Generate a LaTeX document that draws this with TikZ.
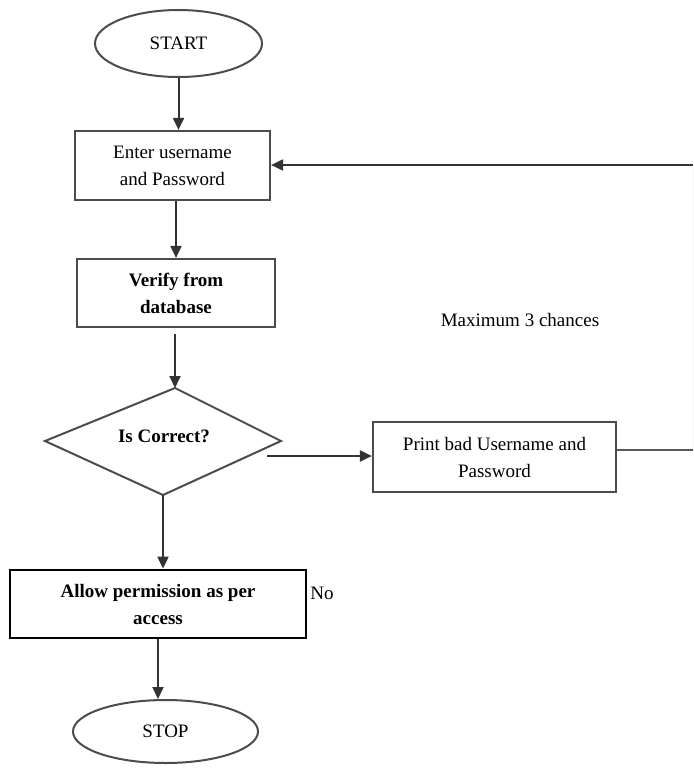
\documentclass[tikz,border=0pt]{standalone}
\usepackage{fontspec}
\setmainfont{Liberation Serif}
\usetikzlibrary{shapes.geometric,arrows.meta}
\begin{document}
\begin{tikzpicture}[x=1pt,y=-1pt,
  every node/.style={font=\fontsize{19}{27}\selectfont, align=center, inner sep=0pt},
  box/.style={draw=black!70, line width=2.2pt, rectangle},
  oval/.style={draw=black!70, line width=2pt, ellipse},
  conn/.style={draw=black!80, line width=2pt},
  arr/.style={conn, -{Triangle[length=12pt,width=11pt]}}]
\useasboundingbox (0,0) rectangle (694,772);
\node[oval, minimum width=167pt, minimum height=67pt] (start) at (178.5,43.5) {START};
\node[box, minimum width=195pt, minimum height=69pt] (enter) at (172.5,165.5) {Enter username\\and Password};
\node[box, minimum width=198pt, minimum height=68pt, font=\fontsize{19}{27}\selectfont\bfseries] (verify) at (176,293) {Verify from\\database};
\coordinate (dtop) at (175,388);
\coordinate (dright) at (281,441);
\coordinate (dbot) at (163,495);
\coordinate (dleft) at (45,441);
\draw[conn, draw=black!70, line join=miter] (dtop) -- (dright) -- (dbot) -- (dleft) -- cycle;
\node[font=\fontsize{19}{27}\selectfont\bfseries] (iscorrect) at (164,436) {Is Correct?};
\node[box, minimum width=243pt, minimum height=70pt] (print) at (494.5,457) {Print bad Username and\\Password};
\node[draw=black, line width=2.8pt, rectangle, minimum width=296pt, minimum height=68pt, font=\fontsize{19}{27}\selectfont\bfseries] (allow) at (158,604) {Allow permission as per\\access};
\node[oval, minimum width=185pt, minimum height=63pt] (stop) at (165.5,731.5) {STOP};
\node (maxc) at (520,320) {Maximum 3 chances};
\node (no) at (322,593) {No};
\coordinate (dout) at (267,456);
\coordinate (r1) at (693,450);
\coordinate (r2) at (693,165);
% connectors
\draw[arr] (start.south) -- (start.south |- enter.north);
\draw[arr] (verify.north |- enter.south) -- (verify.north);
\draw[arr] ([yshift=-6pt]verify.south -| dtop) -- (dtop);
\draw[arr] (dout) -- (dout -| print.west);
\draw[conn, draw=black!65] (r1 -| print.east) -- (r1);
\draw[draw=black!4, line width=1pt] (r1) -- (r2);
\draw[arr] (r2) -- (r2 -| enter.east);
\draw[arr] (dbot) -- (dbot |- allow.north);
\draw[arr] (allow.south) -- (allow.south |- stop.north);
\end{tikzpicture}
\end{document}
